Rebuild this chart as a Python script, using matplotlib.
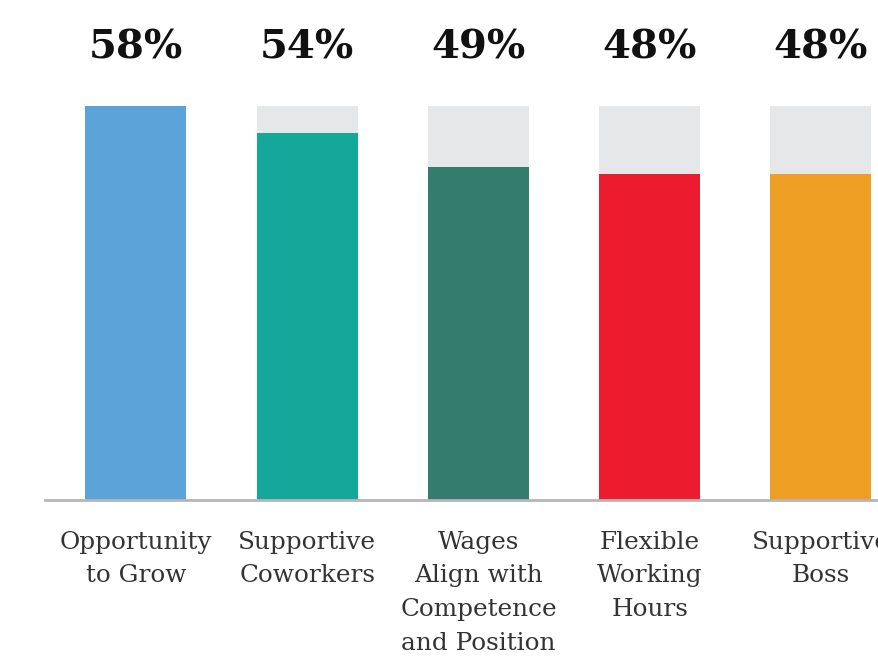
import matplotlib.pyplot as plt
import numpy as np

# Dati
categories = ["Opportunity\nto Grow", "Supportive\nCoworkers",
              "Wages\nAlign with\nCompetence\nand Position",
              "Flexible\nWorking\nHours", "Supportive\nBoss"]
values = [58, 54, 49, 48, 48]
colors = ["#5CA3DA", "#13A89A", "#347C6E", "#EC1C2E", "#EE9E23"]

W, H = 879, 658
fig = plt.figure(figsize=(W / 100, H / 100), dpi=100)

# asse: baseline a y=500px, top barre a y=106px, a destra oltre il bordo
left_px, right_px = 45, 879
ax = fig.add_axes([left_px / W, 1 - 500 / H, (right_px - left_px) / W, (500 - 106) / H])

x = np.arange(len(values))
spacing = 171.25
ax.set_xlim(-(136 - left_px) / spacing, (right_px - 136) / spacing)
ax.set_ylim(0, max(values))

bw = 101 / spacing
ax.bar(x, [max(values)] * len(values), width=bw, color="#E6E7E8", zorder=1)
ax.bar(x, values, width=bw, color=colors, zorder=2)

for xi, v in zip(x, values):
    ax.annotate(f"{v}%", (xi, max(values)), xytext=(0, 42), textcoords="offset points",
                ha="center", va="center", fontsize=29, fontweight="bold",
                family="DejaVu Serif", color="#111111", annotation_clip=False)

for xi, lab in zip(x, categories):
    ax.annotate(lab, (xi, 0), xytext=(0, -22), textcoords="offset points",
                ha="center", va="top", fontsize=17.8, family="DejaVu Serif",
                color="#333333", linespacing=1.6, annotation_clip=False)

for s in ["top", "right", "left"]:
    ax.spines[s].set_visible(False)
ax.spines["bottom"].set_color("#B5B6B9")
ax.spines["bottom"].set_linewidth(2)
ax.spines["bottom"].set_zorder(3)
ax.set_xticks([])
ax.set_yticks([])

fig.savefig("out.png", dpi=100)
